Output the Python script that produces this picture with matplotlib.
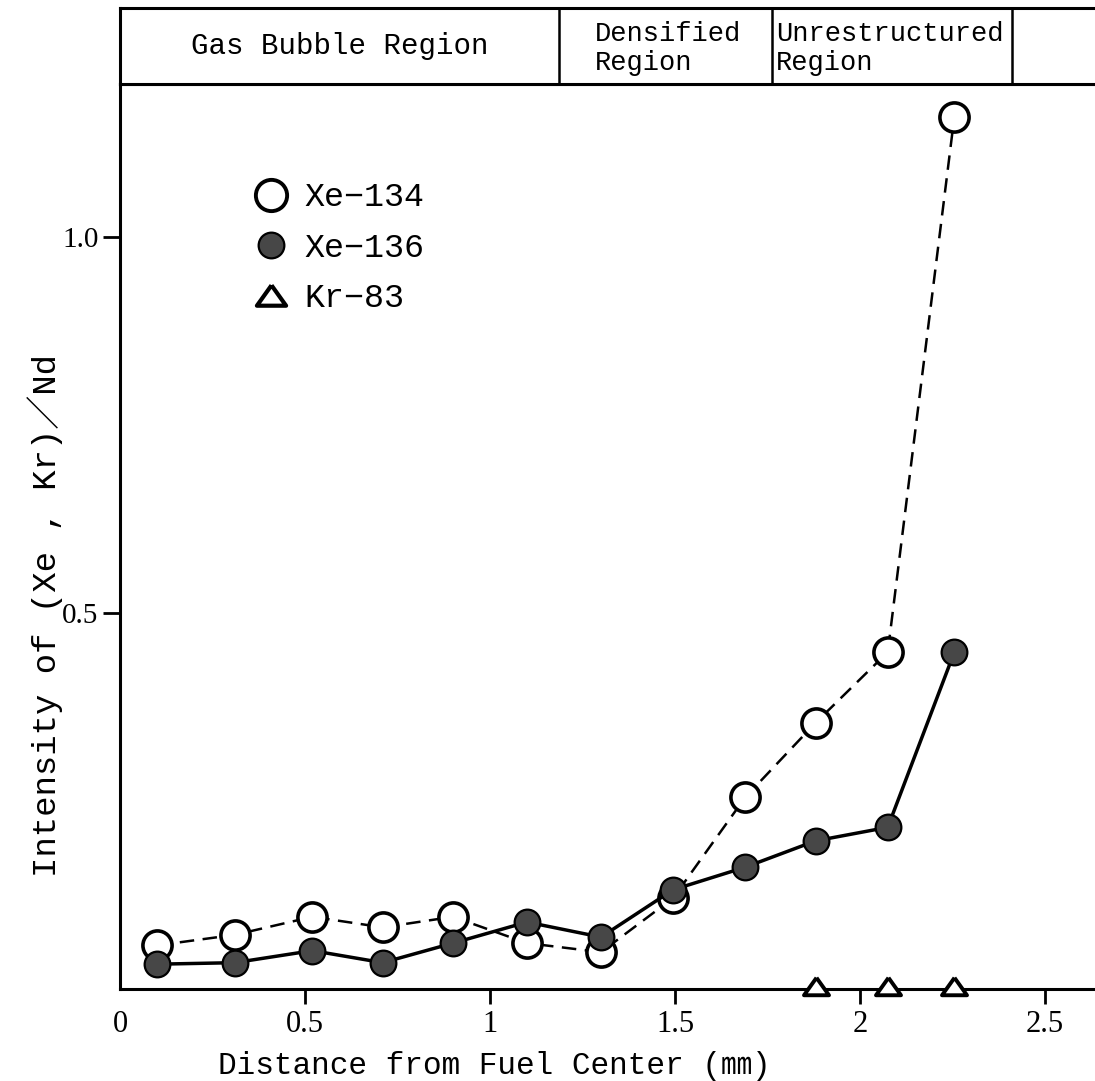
import matplotlib
matplotlib.use("Agg")
import matplotlib.pyplot as plt
from matplotlib.lines import Line2D

# radial positions of the analysed spots (mm from fuel centre)
distance = [0.10, 0.31, 0.52, 0.71, 0.90, 1.10, 1.30, 1.495, 1.69, 1.88, 2.075, 2.255]
xe134 = [0.058, 0.072, 0.096, 0.082, 0.096, 0.061, 0.049, 0.121, 0.255, 0.354, 0.448, 1.160]
xe136 = [0.033, 0.035, 0.051, 0.035, 0.061, 0.089, 0.069, 0.132, 0.162, 0.197, 0.215, 0.448]
kr83_distance = [1.88, 2.075, 2.255]
kr83 = [0.004, 0.004, 0.004]

# microstructure zones across the pellet radius
zone_edges = [1.186, 1.762, 2.411]
zone_labels = ["Gas Bubble Region", "Densified\nRegion", "Unrestructured\nRegion"]

x_ticks = [0, 0.5, 1, 1.5, 2, 2.5]
x_ticklabels = ["0", "0.5", "1", "1.5", "2", "2.5"]
y_ticks = [0.5, 1.0]
y_ticklabels = ["0.5", "1.0"]

mono = ["Liberation Mono", "Noto Sans CJK JP", "DejaVu Sans"]
serif = ["Liberation Serif", "DejaVu Serif"]

W, H = 1095, 1081
fig = plt.figure(figsize=(W / 100, H / 100), dpi=100)
ax = fig.add_axes([120 / W, 92 / H, 975 / W, 905 / H])
hdr = fig.add_axes([120 / W, 997 / H, 975 / W, 76 / H])

xmax = 975 / 370
ax.set_xlim(0, xmax)
ax.set_ylim(0, 905 / 752)

# flat triangle for the Kr points
tri = [(0, 0.7), (-1, -0.7), (1, -0.7), (0, 0.7)]

ax.plot(distance, xe134, color="black", lw=1.8, dashes=(5.8, 3.4),
        marker="o", ms=21, mfc="white", mec="black", mew=2.6, zorder=3)
ax.plot(distance, xe136, color="black", lw=2.5, ls="-",
        marker="o", ms=18.5, mfc="#474747", mec="black", mew=1.6, zorder=4)
ax.plot(kr83_distance, kr83, ls="none", marker=tri, ms=18, mfc="white",
        mec="black", mew=2.8, clip_on=False, zorder=5)

for side in ["left", "bottom", "top"]:
    ax.spines[side].set_linewidth(2.2)
ax.spines["right"].set_visible(False)

ax.set_xticks(x_ticks)
ax.set_xticklabels(x_ticklabels, family=serif, fontsize=22)
ax.set_yticks(y_ticks)
ax.set_yticklabels(y_ticklabels, family=serif, fontsize=21)
ax.tick_params(axis="x", direction="out", length=11, width=2, pad=4)
ax.tick_params(axis="y", direction="out", length=12, width=2, pad=3.5)
ax.xaxis.get_major_ticks()[0].tick1line.set_visible(False)

ax.set_xlabel("Distance from Fuel Center (\u339c)", family=mono, fontsize=22.4)
ax.xaxis.set_label_coords(0.384, -0.068)
ax.set_ylabel("Intensity of (Xe , Kr)\uff0fNd", family=mono, fontsize=24.5)
ax.yaxis.set_label_coords(-0.058, 0.413)

handles = [
    Line2D([], [], ls="none", marker="o", ms=22.5, mfc="white", mec="black", mew=2.8),
    Line2D([], [], ls="none", marker="o", ms=18.5, mfc="#474747", mec="black", mew=1.6),
    Line2D([], [], ls="none", marker=tri, ms=21, mfc="white", mec="black", mew=3),
]
ax.legend(handles, ["Xe\u2212134", "Xe\u2212136", "Kr\u221283"],
          loc="upper left", bbox_to_anchor=(0.138, 0.8915), frameon=False,
          prop={"family": mono, "size": 24}, handlelength=1.0,
          handletextpad=0.5, labelspacing=0.58, borderpad=0, borderaxespad=0)

# header strip with the zone names
hdr.set_xlim(0, xmax)
hdr.set_ylim(0, 1)
hdr.set_xticks([])
hdr.set_yticks([])
for side in ["left", "top", "bottom"]:
    hdr.spines[side].set_linewidth(2.2)
hdr.spines["right"].set_visible(False)
for edge in zone_edges:
    hdr.axvline(edge, color="black", lw=1.8)

hdr.text(zone_edges[0] / 2, 0.5, zone_labels[0], ha="center", va="center",
         family=mono, fontsize=21)
hdr.text(zone_edges[0] + 0.098, 0.47, zone_labels[1], ha="left", va="center",
         family=mono, fontsize=19.5, linespacing=1.15)
hdr.text(zone_edges[1] + 0.011, 0.47, zone_labels[2], ha="left", va="center",
         family=mono, fontsize=19.5, linespacing=1.15)

fig.savefig("out.png", dpi=100)
